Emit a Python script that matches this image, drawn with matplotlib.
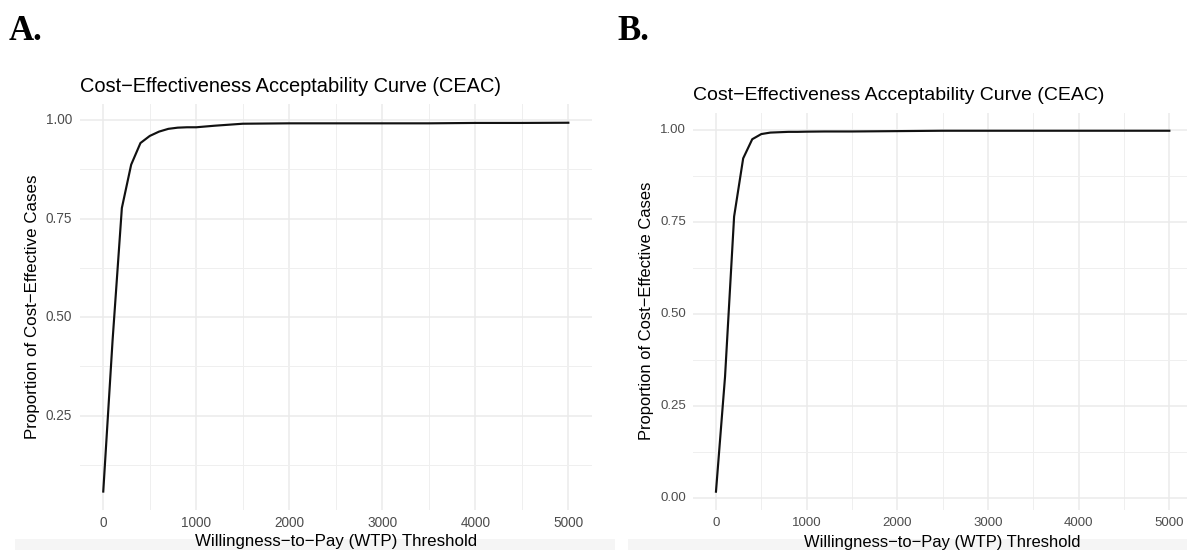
import matplotlib
matplotlib.use("Agg")
import matplotlib.pyplot as plt
from matplotlib.patches import Rectangle
from matplotlib.ticker import MultipleLocator, FixedLocator

# ---- data ----
wtp = [0, 100, 200, 300, 400, 500, 600, 700, 800, 900, 1000,
       1200, 1500, 2000, 2500, 3000, 3500, 4000, 4500, 5000]
prop_a = [0.057, 0.44, 0.777, 0.887, 0.942, 0.960, 0.971, 0.978, 0.981, 0.982, 0.982,
          0.986, 0.991, 0.992, 0.992, 0.992, 0.992, 0.993, 0.993, 0.9935]
prop_b = [0.018, 0.33, 0.765, 0.923, 0.975, 0.989, 0.993, 0.994, 0.995, 0.995, 0.9955,
          0.996, 0.996, 0.997, 0.998, 0.998, 0.998, 0.998, 0.998, 0.998]
x_ticks = [0, 1000, 2000, 3000, 4000, 5000]
y_ticks = [0.00, 0.25, 0.50, 0.75, 1.00]
title = "Cost\u2212Effectiveness Acceptability Curve (CEAC)"
xlabel = "Willingness\u2212to\u2212Pay (WTP) Threshold"
ylabel = "Proportion of Cost\u2212Effective Cases"
panel_labels = ["A.", "B."]

W, H = 1187, 550
fig = plt.figure(figsize=(W / 100, H / 100), dpi=100)
fig.patch.set_facecolor("white")
plt.rcParams["font.family"] = ["Liberation Sans", "DejaVu Sans"]


def fx(px):
    return px / W


def fy(py):
    return 1 - py / H


# faint screenshot bands at the bottom
fig.patches.append(Rectangle((fx(15), 0), fx(600), fy(539), transform=fig.transFigure,
                             facecolor="#F5F5F5", edgecolor="none", zorder=0))
fig.patches.append(Rectangle((fx(628), 0), fx(1187 - 628), fy(539), transform=fig.transFigure,
                             facecolor="#F5F5F5", edgecolor="none", zorder=0))

# panel geometry in pixels: left, right, top, bottom
panels = [
    dict(box=(80, 591.6, 104.3, 510.0), data=prop_a, scale=1.0,
         title_y=86.7, ytitle_x=32.5, ytick_pad=8, lab=(9, 31), xtick_y=523, xtitle_y=541.7),
    dict(box=(693.3, 1192.0, 112.7, 509.7), data=prop_b, scale=0.975,
         title_y=96.0, ytitle_x=647, ytick_pad=7, lab=(617, 32), xtick_y=523, xtitle_y=542),
]

for p, lab in zip(panels, panel_labels):
    l, r, t, b = p["box"]
    ax = fig.add_axes([fx(l), fy(b), fx(r - l), fy(t) - fy(b)])
    ys = p["data"]
    ax.plot(wtp, ys, color="#111111", lw=1.55, solid_joinstyle="round", zorder=3)
    ax.set_xlim(-250, 5250)
    lo, hi = min(ys), max(ys)
    rng = hi - lo
    ax.set_ylim(lo - 0.05 * rng, hi + 0.05 * rng)
    ax.xaxis.set_major_locator(FixedLocator(x_ticks))
    ax.xaxis.set_minor_locator(MultipleLocator(500))
    ax.yaxis.set_major_locator(FixedLocator(y_ticks))
    ax.yaxis.set_minor_locator(MultipleLocator(0.125))
    ax.set_xticklabels([])
    ax.set_yticklabels([])
    ax.grid(which="major", color="#EBEBEB", lw=1.1)
    ax.grid(which="minor", color="#EFEFEF", lw=0.7)
    ax.set_axisbelow(True)
    ax.tick_params(which="both", length=0)
    for s in ax.spines.values():
        s.set_visible(False)
    sc = p["scale"]
    ylo, yhi = ax.get_ylim()
    for v in x_ticks:
        xp = l + (v + 250) / 5500 * (r - l)
        fig.text(fx(xp), fy(p["xtick_y"]), f"{v}", ha="center", va="center",
                 fontsize=9.8 * sc, color="#4D4D4D")
    for v in y_ticks:
        if v < ylo or v > yhi:
            continue
        yp = b - (v - ylo) / (yhi - ylo) * (b - t)
        fig.text(fx(l - p["ytick_pad"]), fy(yp), f"{v:.2f}", ha="right", va="center",
                 fontsize=9.8 * sc, color="#4D4D4D")
    fig.text(fx(l), fy(p["title_y"]), title, ha="left", va="center",
             fontsize=14.4 * sc, color="black")
    fig.text(fx((l + r) / 2), fy(p["xtitle_y"]), xlabel,
             ha="center", va="center", fontsize=12.2 * sc, color="black", zorder=5)
    fig.text(fx(p["ytitle_x"]), fy((t + b) / 2), ylabel, ha="center", va="center",
             rotation=90, fontsize=12.2 * sc, color="black")
    fig.text(fx(p["lab"][0]), fy(p["lab"][1]), lab, ha="left", va="center",
             fontsize=25, fontweight="bold", family=["Liberation Serif", "DejaVu Serif"],
             color="black")

fig.savefig("out.png", dpi=100)
